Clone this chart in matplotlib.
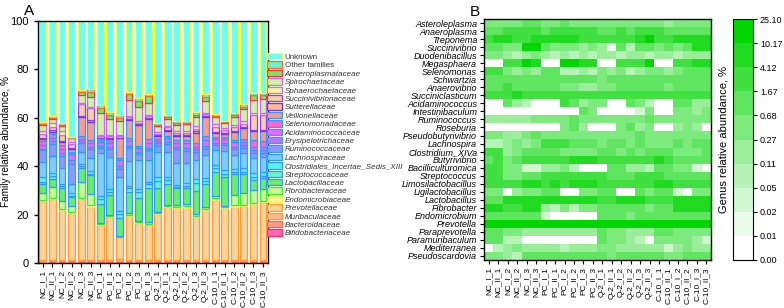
import matplotlib
matplotlib.use('Agg')
from matplotlib import pyplot as plt
from matplotlib.colors import ListedColormap, BoundaryNorm
from matplotlib.patches import Patch
import numpy as np

plt.rcParams['font.family'] = ['Liberation Sans', 'DejaVu Sans']

samples = ['NC_I_1', 'NC_II_1', 'NC_I_2', 'NC_II_2', 'NC_I_3', 'NC_II_3',
           'PC_I_1', 'PC_II_1', 'PC_I_2', 'PC_II_2', 'PC_I_3', 'PC_II_3',
           'Q-2_I_1', 'Q-2_II_1', 'Q-2_I_2', 'Q-2_II_2', 'Q-2_I_3', 'Q-2_II_3',
           'C-10_I_1', 'C-10_II_1', 'C-10_I_2', 'C-10_II_2', 'C-10_I_3', 'C-10_II_3']

# family relative abundance (%), bottom of the stack first
bifido = [0.3, 0.3, 0.3, 0.3, 0.3, 0.3, 0.3, 0.3, 0.4, 0.3, 0.3, 0.3,
          0.3, 0.3, 0.3, 0.3, 0.3, 0.3, 0.3, 0.3, 0.3, 0.3, 0.3, 0.3]
bactero = [0.3, 0.4, 0.4, 0.4, 0.4, 0.4, 0.5, 0.4, 0.5, 0.4, 0.4, 0.3,
           0.4, 0.4, 0.4, 0.4, 0.4, 0.4, 0.4, 0.4, 0.4, 0.4, 0.4, 0.4]
muribac = [0.6, 0.6, 0.6, 0.6, 0.6, 0.6, 0.6, 0.6, 0.6, 0.6, 0.5, 0.5,
           0.6, 0.6, 0.6, 0.6, 0.6, 0.6, 0.7, 0.6, 0.6, 0.6, 0.6, 0.6]
prevo = [24.5, 25.1, 20.6, 19.2, 25.1, 22.0, 14.3, 17.8, 9.1, 18.3, 15.5, 14.9,
         18.9, 21.7, 21.3, 21.6, 17.8, 20.5, 24.8, 21.3, 22.0, 22.3, 23.2, 23.8]
endomic = [0.3, 0.4, 0.4, 0.5, 0.4, 0.5, 0.3, 0.3, 0.3, 0.4, 0.3, 0.3,
           0.3, 0.4, 0.4, 0.5, 0.5, 0.5, 0.5, 0.4, 0.5, 0.5, 0.5, 0.5]
fibro = [3.0, 4.5, 3.4, 2.5, 6.5, 4.8, 0.5, 0.6, 0.4, 0.5, 0.4, 0.8,
         0.5, 0.6, 0.8, 1.0, 0.8, 1.0, 1.0, 0.6, 4.5, 5.0, 5.0, 5.0]
lacto = [3.5, 3.5, 5.3, 3.8, 6.0, 7.6, 8.0, 8.0, 7.5, 9.0, 9.5, 14.0,
         10.0, 8.5, 7.0, 6.5, 9.5, 9.5, 10.0, 12.0, 8.5, 7.5, 4.5, 4.5]
strepto = [1.0, 1.0, 0.8, 0.5, 0.8, 0.7, 2.0, 1.5, 1.5, 1.5, 2.5, 1.5,
           3.0, 2.0, 0.8, 1.0, 3.0, 1.0, 1.5, 1.0, 1.0, 1.0, 1.0, 1.0]
clostr = [2.0, 1.5, 1.0, 1.2, 0.8, 1.0, 1.0, 1.0, 1.2, 1.0, 1.0, 1.0,
          1.5, 1.0, 0.8, 1.0, 2.0, 1.5, 1.5, 2.0, 1.2, 1.5, 1.5, 1.5]
lachno = [6.2, 7.0, 6.5, 3.5, 5.0, 5.5, 18.0, 13.5, 14.0, 10.0, 12.0, 9.0,
          10.5, 10.5, 9.0, 8.5, 7.5, 9.5, 6.0, 7.5, 5.5, 6.5, 6.5, 6.0]
rumino = [4.8, 5.0, 5.0, 8.5, 3.5, 3.5, 2.0, 3.0, 3.5, 5.5, 2.5, 4.0,
          2.5, 3.0, 5.5, 5.0, 3.5, 2.5, 2.0, 2.5, 2.5, 2.0, 2.0, 2.0]
erysip = [0.8, 1.0, 1.2, 1.5, 1.0, 1.0, 1.0, 1.0, 1.0, 1.0, 1.0, 1.0,
          1.0, 1.0, 1.0, 1.2, 1.0, 1.0, 1.0, 1.0, 1.0, 1.0, 1.0, 1.0]
acidam = [1.5, 1.5, 1.8, 2.5, 1.0, 1.5, 1.5, 1.5, 2.5, 2.0, 1.5, 2.0,
          1.0, 1.5, 1.5, 1.8, 1.0, 2.5, 1.5, 1.5, 2.0, 1.5, 1.5, 1.5]
seleno = [1.5, 1.5, 1.5, 1.0, 1.0, 1.5, 1.0, 1.0, 1.0, 1.0, 1.0, 1.5,
          0.8, 1.0, 1.5, 1.5, 1.5, 1.5, 1.0, 1.0, 1.0, 1.0, 3.0, 2.5]
veillon = [1.0, 1.0, 1.0, 1.0, 7.8, 7.5, 0.5, 0.6, 8.0, 7.5, 8.5, 8.5,
           1.0, 2.0, 1.5, 1.5, 4.5, 8.0, 1.5, 1.0, 3.0, 4.5, 3.5, 4.0]
sutter = [0.5, 0.5, 0.6, 0.5, 0.5, 0.6, 0.3, 0.4, 0.3, 0.5, 0.4, 0.4,
          0.4, 0.5, 0.4, 0.4, 0.5, 0.4, 0.5, 0.5, 0.5, 0.5, 0.5, 0.5]
succini = [1.3, 1.5, 2.5, 1.5, 4.8, 5.0, 0.7, 0.8, 0.7, 0.8, 0.7, 0.7,
           0.8, 1.0, 1.0, 1.0, 1.0, 0.8, 2.0, 1.2, 1.5, 1.5, 6.0, 6.0]
sphaero = [1.5, 1.5, 1.5, 1.0, 0.5, 0.5, 0.5, 0.5, 0.5, 0.5, 0.5, 0.5,
           0.5, 0.8, 0.8, 0.8, 1.0, 0.5, 1.2, 1.0, 1.0, 1.0, 1.0, 1.0]
spiro = [2.5, 1.9, 2.3, 1.5, 3.5, 4.0, 9.0, 6.5, 5.5, 6.5, 6.0, 5.0,
         2.5, 2.8, 2.6, 2.8, 4.0, 5.0, 2.8, 2.2, 3.5, 5.0, 5.5, 5.5]
anaerop = [0.3, 0.3, 0.4, 0.3, 1.2, 2.0, 2.0, 1.8, 1.5, 2.5, 2.5, 2.8,
           0.7, 0.6, 0.6, 0.6, 0.8, 1.5, 0.5, 0.3, 0.6, 1.0, 1.8, 1.8]
other = [0.7, 0.7, 0.6, 0.4, 0.8, 1.3, 1.3, 1.2, 1.0, 1.0, 1.2, 0.8,
         0.8, 1.0, 0.9, 0.8, 1.3, 1.2, 0.9, 0.5, 0.8, 1.0, 1.1, 1.0]

families = [
    ('Bifidobacteriaceae', bifido, '#FF66BB', '#FF3366'),
    ('Bacteroidaceae', bactero, '#FF9988', '#FF6644'),
    ('Muribaculaceae', muribac, '#FFBB88', '#FF9933'),
    ('Prevotellaceae', prevo, '#F9D49A', '#FF9933'),
    ('Endomicrobiaceae', endomic, '#F5F59A', '#EEEE55'),
    ('Fibrobacteraceae', fibro, '#CCF599', '#33EE33'),
    ('Lactobacillaceae', lacto, '#66F066', '#3399FF'),
    ('Streptococcaceae', strepto, '#66F5CC', '#3399FF'),
    ('Clostridiales_Incertae_Sedis_XIII', clostr, '#55F5FF', '#3399FF'),
    ('Lachnospiraceae', lachno, '#7FCCFF', '#3399FF'),
    ('Ruminococcaceae', rumino, '#8C99FF', '#3399FF'),
    ('Erysipelotrichaceae', erysip, '#BB77FF', '#3399FF'),
    ('Acidaminococcaceae', acidam, '#EE66FF', '#3399FF'),
    ('Selenomonadaceae', seleno, '#FF66CC', '#3399FF'),
    ('Veillonellaceae', veillon, '#FF9988', '#3399FF'),
    ('Sutterellaceae', sutter, '#FFBB88', '#6633FF'),
    ('Succinivibrionaceae', succini, '#F5D29A', '#9933FF'),
    ('Sphaerochaetaceae', sphaero, '#F5F59A', '#CC66FF'),
    ('Spirochaetaceae', spiro, '#CCF599', '#CC66FF'),
    ('Anaeroplasmataceae', anaerop, '#66F066', '#FF3333'),
    ('Other families', other, '#66F5CC', '#FF6633'),
]

# genus relative abundance (%), heatmap rows top to bottom
genera = ['Asteroleplasma', 'Anaeroplasma', 'Treponema', 'Succinivibrio', 'Duodenibacillus',
          'Megasphaera', 'Selenomonas', 'Schwartzia', 'Anaerovibrio', 'Succiniclasticum',
          'Acidaminococcus', 'Intestinibaculum', 'Ruminococcus', 'Roseburia', 'Pseudobutyrivibrio',
          'Lachnospira', 'Clostridium_XIVa', 'Butyrivibrio', 'Bacilliculturomica', 'Streptococcus',
          'Limosilactobacillus', 'Ligilactobacillus', 'Lactobacillus', 'Fibrobacter', 'Endomicrobium',
          'Prevotella', 'Paraprevotella', 'Paramuribaculum', 'Mediterranea', 'Pseudoscardovia']
genus_abund = [
    [0.45, 0.42, 0.48, 0.5, 0.9, 0.8, 0.47, 0.44, 0.75, 0.5, 0.46, 0.43, 0.49, 0.45, 0.41, 0.47, 0.5, 0.44, 0.46, 0.22, 0.48, 0.5, 0.45, 0.47],
    [1.2, 1.1, 2.2, 2.5, 2.0, 2.3, 1.3, 2.1, 2.4, 2.6, 2.2, 2.0, 1.4, 1.2, 2.1, 1.3, 2.2, 2.5, 2.0, 1.3, 1.2, 1.4, 1.1, 1.3],
    [3.0, 5.2, 6.0, 3.2, 3.5, 5.5, 4.8, 5.0, 5.6, 5.1, 3.6, 3.3, 3.1, 3.4, 3.8, 3.5, 5.4, 11.2, 3.6, 3.2, 5.8, 6.2, 5.5, 7.0],
    [1.2, 1.0, 0.5, 0.45, 10.8, 11.5, 0.9, 0.4, 0.38, 0.42, 0.2, 0.35, 0.18, 0.015, 0.8, 0.07, 1.0, 0.9, 0.4, 0.85, 0.45, 0.9, 5.5, 6.0],
    [0.4, 0.5, 0.2, 0.09, 0.17, 0.35, 0.2, 0.08, 0.22, 0.07, 0.18, 0.09, 0.2, 0.16, 0.08, 0.19, 0.21, 0.07, 0.18, 0.2, 0.09, 0.17, 0.2, 0.22],
    [0, 0, 3.0, 3.6, 11.0, 7.5, 0, 0, 10.5, 12.0, 7.0, 6.8, 0, 0, 3.2, 2.9, 3.5, 10.4, 0, 0, 3.1, 3.4, 5.0, 6.2],
    [2.2, 2.5, 0.4, 0.2, 0.45, 0.2, 1.0, 1.2, 0.08, 0.07, 0.18, 0.09, 0.5, 0.2, 0.45, 0.08, 0.2, 0.4, 0.45, 0.19, 0.5, 0.9, 1.0, 1.1],
    [1.0, 0.9, 1.1, 1.2, 0.95, 1.0, 1.05, 0.9, 1.1, 1.0, 0.85, 0.95, 0.6, 1.0, 1.1, 1.2, 1.0, 0.9, 1.05, 1.1, 0.95, 1.0, 1.2, 1.1],
    [1.2, 1.3, 1.8, 1.1, 1.0, 1.2, 0.9, 1.0, 0.5, 0.45, 0.22, 0.2, 0.5, 0.45, 0.9, 1.0, 1.1, 0.9, 1.0, 0.5, 1.1, 1.0, 1.2, 1.3],
    [2.5, 2.8, 3.0, 4.5, 2.6, 2.4, 2.9, 3.1, 2.7, 2.5, 2.6, 2.8, 2.4, 2.7, 3.0, 2.9, 2.6, 2.8, 3.2, 2.5, 2.6, 2.7, 2.9, 3.0],
    [0, 0, 1.1, 0.2, 0.08, 0, 0, 0, 2.0, 1.0, 0.18, 0.4, 0.4, 0, 0, 1.0, 0.45, 0.08, 0, 0, 1.1, 0.9, 0.2, 0.19],
    [0, 0, 0, 0, 0, 0, 0, 0, 0, 0, 1.0, 0.4, 0, 0, 0, 0, 0.03, 0.45, 0, 0, 0.4, 0.5, 0.2, 0.45],
    [0.2, 0.22, 0.19, 0.2, 0.21, 0.4, 0.45, 0.5, 0.42, 0.9, 0.46, 0.4, 0.45, 0.5, 0.48, 0.4, 0.44, 0.8, 0.47, 0.43, 0.5, 0.45, 0.42, 0.46],
    [0, 0, 0, 0, 0, 0, 0, 0, 0.4, 1.0, 0.2, 0, 0, 0, 0.45, 1.1, 0.2, 0.4, 0, 0, 0.18, 0.45, 0.2, 0],
    [0.45, 0.4, 0.2, 0.22, 0.5, 0.9, 0.48, 0.42, 0.45, 0.5, 0.4, 0.44, 0.46, 0.5, 0.43, 0.41, 0.85, 0.47, 0.45, 0.4, 0.5, 0.44, 0.42, 0.46],
    [0.08, 0.07, 0.2, 0.45, 0.19, 0.4, 2.2, 2.5, 2.0, 1.1, 1.0, 0.9, 0.45, 1.0, 1.1, 0.5, 0.9, 0.45, 0.4, 0.42, 1.0, 0.46, 1.1, 0.95],
    [2.0, 2.2, 0.2, 0.45, 1.0, 0.9, 1.1, 1.0, 0.45, 0.5, 0.42, 0.4, 1.0, 0.95, 0.45, 1.1, 0.4, 1.0, 0.9, 1.05, 0.46, 0.44, 0.5, 1.0],
    [1.2, 2.0, 0.45, 1.1, 2.2, 2.5, 2.4, 2.1, 2.6, 4.5, 5.0, 4.4, 2.3, 2.5, 2.2, 2.0, 2.4, 2.6, 4.3, 2.1, 1.2, 1.1, 1.3, 1.0],
    [2.0, 2.2, 0.4, 0.45, 0.03, 0.03, 0.2, 0.19, 0.42, 0.08, 0, 0, 0, 1.0, 1.1, 0.2, 0.18, 0.07, 1.0, 0.9, 0.45, 0.4, 0.03, 0],
    [2.1, 2.0, 0.45, 0.5, 1.0, 1.1, 2.5, 2.2, 2.3, 2.1, 2.6, 2.0, 2.8, 1.1, 1.0, 1.2, 2.9, 1.9, 2.0, 1.1, 1.0, 1.2, 1.0, 1.1],
    [2.5, 2.2, 2.8, 3.0, 4.5, 5.0, 3.2, 4.8, 3.5, 5.2, 4.6, 4.4, 3.0, 2.9, 2.6, 2.7, 3.1, 3.3, 4.8, 4.5, 3.0, 2.8, 3.2, 3.0],
    [0.4, 0.45, 0, 0.2, 0.45, 0.5, 1.0, 1.1, 0, 0, 0.4, 0.45, 1.0, 0.9, 0, 0, 1.1, 0.45, 1.0, 0.95, 0.03, 0, 0.42, 0.45],
    [1.1, 1.0, 5.0, 4.5, 5.5, 6.0, 5.2, 4.8, 5.0, 5.8, 6.2, 9.0, 3.0, 2.8, 5.0, 4.6, 5.5, 3.2, 3.4, 3.0, 5.2, 4.8, 4.5, 5.0],
    [4.5, 5.0, 3.0, 2.8, 6.5, 5.0, 0.2, 0.08, 0.4, 0.07, 0.45, 0.5, 1.0, 1.1, 0.9, 1.2, 1.0, 0.45, 1.1, 1.0, 4.8, 5.2, 5.0, 5.1],
    [1.0, 1.1, 1.0, 1.2, 0.9, 1.0, 0.03, 0, 0, 0, 0, 0, 1.0, 1.1, 0.9, 0.5, 1.0, 1.1, 1.0, 0.9, 1.1, 1.0, 1.2, 1.0],
    [18.0, 19.5, 17.0, 16.5, 20.0, 18.5, 12.5, 15.0, 10.5, 15.5, 13.0, 13.5, 16.0, 18.0, 17.5, 18.0, 15.0, 17.0, 20.5, 18.0, 18.5, 19.0, 19.5, 20.0],
    [1.0, 1.1, 0.45, 0.4, 0.2, 0.18, 0.2, 0.19, 0.2, 0.22, 0.18, 0.2, 1.0, 0.45, 0.4, 0.2, 0.19, 0.2, 0.9, 1.0, 0.45, 0.42, 0.4, 0.45],
    [1.0, 0.9, 0.08, 0.07, 0, 0, 0, 0, 0, 0, 0, 0, 1.0, 0.45, 0.4, 0.2, 0.08, 0, 0.45, 0.4, 0.45, 0.5, 0.2, 0.03],
    [0, 0.08, 0.2, 0.45, 0.19, 0.2, 0.18, 0.2, 0.08, 0.2, 0.19, 0.2, 0.45, 0.4, 0.2, 0.18, 0.2, 0.19, 0.2, 0.03, 0.2, 0.45, 0.2, 0.19],
    [0.45, 0.4, 0.2, 0.08, 1.0, 1.1, 0.9, 1.0, 1.1, 1.0, 0.95, 1.05, 1.0, 0.45, 1.1, 1.0, 0.9, 1.0, 1.05, 0.4, 0.45, 1.0, 1.1, 0.95],
]
levels = [0.0, 0.01, 0.02, 0.05, 0.11, 0.27, 0.68, 1.67, 4.12, 10.17, 25.10]
level_labels = ['0.00', '0.01', '0.02', '0.05', '0.11', '0.27', '0.68', '1.67', '4.12', '10.17', '25.10']

fig = plt.figure(figsize=(7.84, 3.08), dpi=100)

# ---- panel A: stacked bars
axA = fig.add_axes([0.0485, 0.146, 0.293, 0.786])
x = np.arange(len(samples))
bottom = np.zeros(len(samples))
for name, vals, fc, ec in families:
    vals = np.array(vals)
    axA.bar(x, vals, 0.72, bottom=bottom, color=fc, edgecolor=ec, linewidth=0.9)
    bottom += vals
# whatever is not classified
unknown = 100 - bottom
axA.bar(x, unknown, 0.72, bottom=bottom, color='#66FFFF', edgecolor='#FFFF33', linewidth=0.9)

axA.set_xlim(-0.5, len(samples) - 0.5)
axA.set_ylim(0, 100)
axA.set_yticks([0, 20, 40, 60, 80, 100])
axA.set_xticks(x)
axA.set_xticklabels(samples, rotation=90, fontsize=6)
axA.tick_params(axis='y', labelsize=8, length=3, width=1)
axA.tick_params(axis='x', length=3, width=0.8, pad=2)
axA.set_ylabel('Family relative abundance, %', fontsize=7.2)
axA.yaxis.set_label_coords(-0.118, 0.5)
for s in axA.spines.values():
    s.set_linewidth(1)
fig.text(0.031, 0.965, 'A', fontsize=11, ha='left', va='center')

handles = [Patch(facecolor='#66FFFF', edgecolor='#FFFF33', linewidth=0.9, label='Unknown')]
for name, vals, fc, ec in families[::-1]:
    handles.append(Patch(facecolor=fc, edgecolor=ec, linewidth=0.9, label=name))
leg = fig.legend(handles=handles, loc='upper left', bbox_to_anchor=(0.341, 0.828),
                 frameon=False, fontsize=5.8, handlelength=1.8, handleheight=0.85,
                 labelspacing=0.05, handletextpad=0.35, borderpad=0, borderaxespad=0)
for t in leg.get_texts():
    if t.get_text() not in ('Unknown', 'Other families'):
        t.set_style('italic')
    t.set_color('#333333')

# ---- panel B: heatmap
axB = fig.add_axes([0.6175, 0.156, 0.2895, 0.782])
greens = [(1 - f, 1 - 0.16 * f, 1 - f) for f in np.linspace(0, 1, 10) ** 1.15]
cmap = ListedColormap(greens)
norm = BoundaryNorm(levels, cmap.N)
im = axB.imshow(np.array(genus_abund), cmap=cmap, norm=norm, aspect='auto',
                interpolation='nearest')
axB.set_yticks(np.arange(len(genera)))
axB.set_yticklabels(genera, fontsize=6.5, style='italic')
axB.set_xticks(np.arange(len(samples)))
axB.set_xticklabels(samples, rotation=90, fontsize=6)
axB.tick_params(length=3, width=0.8, pad=2)
for s in axB.spines.values():
    s.set_linewidth(1)
fig.text(0.606, 0.96, 'B', fontsize=11, ha='center', va='center')

cax = fig.add_axes([0.935, 0.156, 0.0255, 0.782])
cb = fig.colorbar(im, cax=cax, boundaries=levels, ticks=levels, spacing='uniform')
cb.ax.set_yticklabels(level_labels, fontsize=6.5)
cb.ax.tick_params(length=3, width=0.8, pad=2)
cb.outline.set_linewidth(0.8)
cb.ax.yaxis.set_label_position('left')
cb.set_label('Genus relative abundance, %', fontsize=8, labelpad=3)

fig.savefig('out.png', dpi=100)
